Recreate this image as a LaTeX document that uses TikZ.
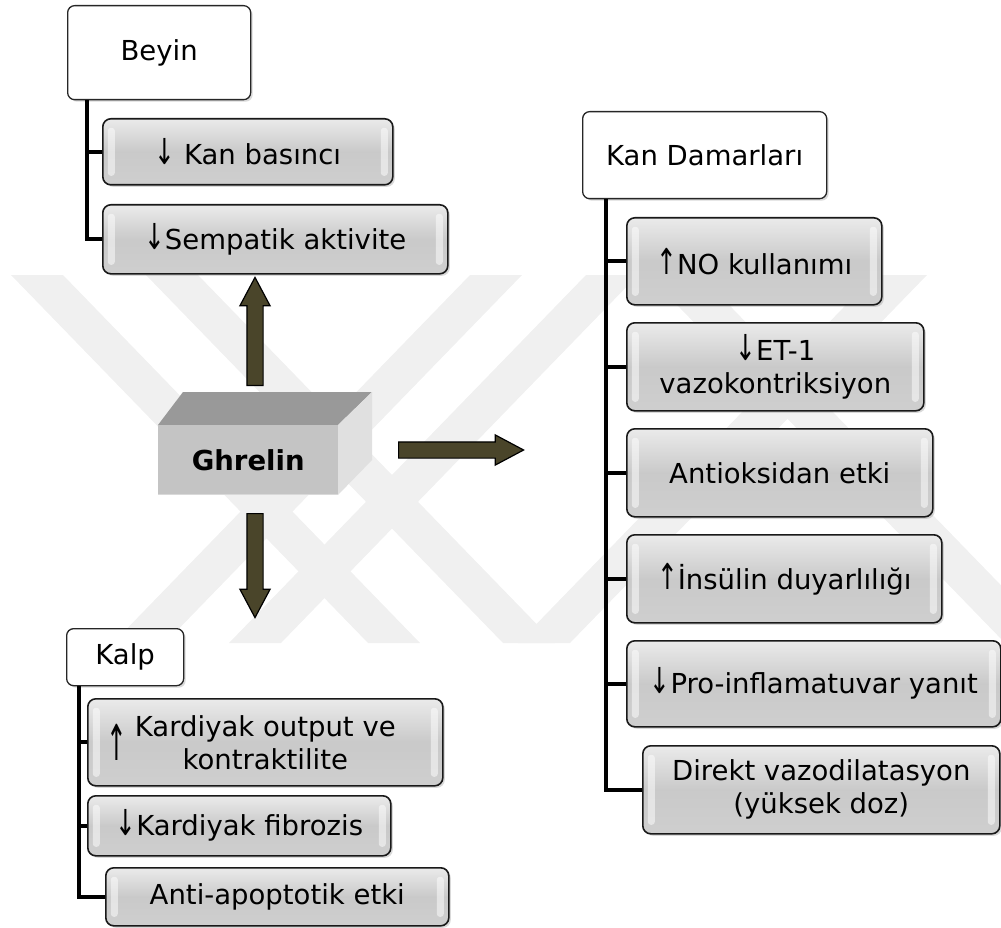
\documentclass[tikz,border=0pt]{standalone}
\usepackage{fontspec}
\setmainfont{DejaVu Sans}
\usepackage{graphicx}
\usetikzlibrary{shapes.arrows, shadows}

\definecolor{arrowolive}{HTML}{4A452A}
\newcommand{\dn}{\scalebox{0.9}[1.3]{↓}}
\newcommand{\upp}{\scalebox{0.9}[1.3]{↑}}

\begin{document}
\begin{tikzpicture}[x=1pt, y=-1pt,
    every node/.style={font=\fontsize{27.5}{33}\selectfont},
    header/.style={draw=black!85, line width=1.3pt, fill=white, rounded corners=7pt,
        drop shadow={shadow xshift=2pt, shadow yshift=-2pt, opacity=0.3},
        anchor=north west, inner sep=0pt},
    item/.style={draw=black!90, line width=1.6pt, rounded corners=8pt,
        top color=black!8, bottom color=black!19, middle color=black!21,
        drop shadow={shadow xshift=2pt, shadow yshift=-2pt, opacity=0.3},
        anchor=north west, align=center, inner sep=0pt,
        path picture={
            \fill[white, opacity=0.5, rounded corners=3pt]
                ([xshift=5pt, yshift=9pt]path picture bounding box.south west) rectangle
                ([xshift=12pt, yshift=-9pt]path picture bounding box.north west);
            \fill[white, opacity=0.5, rounded corners=3pt]
                ([xshift=-12pt, yshift=9pt]path picture bounding box.south east) rectangle
                ([xshift=-5pt, yshift=-9pt]path picture bounding box.north east);
        }},
    branch/.style={line width=4pt, black},
    bigarrow/.style={single arrow, draw=black, line width=1.2pt, fill=arrowolive,
        minimum width=29pt, single arrow head extend=7pt,
        single arrow tip angle=56, inner xsep=0pt, inner ysep=7.5pt},
    band/.style={fill=black!6}
]
\useasboundingbox (0,0) rectangle (1001,928);

% watermark stripes
\fill[band] (11,275) -- (63,275) -- (420,643) -- (368,643) -- cycle;
\fill[band] (146,275) -- (198,275) -- (555,643) -- (503,643) -- cycle;
\fill[band] (648,275) -- (700,275) -- (1057,643) -- (1005,643) -- cycle;
\fill[band] (470,275) -- (522,275) -- (165,643) -- (113,643) -- cycle;
\fill[band] (586,275) -- (638,275) -- (281,643) -- (229,643) -- cycle;
\fill[band] (875,275) -- (927,275) -- (570,643) -- (518,643) -- cycle;

% Ghrelin block
\fill[black!40] (158,425) -- (183,392) -- (372,392) -- (338,425) -- cycle;
\fill[black!12] (338,425) -- (372,392) -- (372,460) -- (338,495) -- cycle;
\node[fill=black!23, minimum width=180pt, minimum height=70pt, anchor=north west,
      inner sep=0pt, font=\fontsize{27.5}{33}\selectfont\bfseries] (ghrelin) at (158,425) {Ghrelin};
\draw[black!15, line width=1.5pt] ([yshift=1pt]ghrelin.south west) -- ([yshift=1pt]ghrelin.south east);

\node[bigarrow, rotate=90, minimum height=108pt, anchor=tail] (uparrow) at (255,386) {};
\node[bigarrow, rotate=-90, minimum height=104pt, anchor=tail] (downarrow) at (255,513) {};
\node[bigarrow, minimum height=125pt, anchor=tail] (rightarrow) at (398,450) {};

% Beyin
\node[header, minimum width=183pt, minimum height=94pt] (beyin) at (67,5) {Beyin};
\node[item, minimum width=290pt, minimum height=66pt] (kanbasinci) at (102,118) {\dn\ Kan basıncı};
\node[item, minimum width=345pt, minimum height=69pt] (sempatik) at (102,204) {\dn Sempatik aktivite};
\draw[branch] ([xshift=20pt]beyin.south west) |- (kanbasinci.west);
\draw[branch] ([xshift=20pt]beyin.south west) |- (sempatik.west);

% Kan Damarlari
\node[header, minimum width=244pt, minimum height=87pt] (kandamar) at (582,111) {Kan Damarları};
\node[item, minimum width=255pt, minimum height=87pt] (nokul) at (626,217) {\upp NO kullanımı};
\node[item, minimum width=297pt, minimum height=88pt] (etbir) at (626,322) {\dn ET-1\\vazokontriksiyon};
\node[item, minimum width=306pt, minimum height=88pt] (antiok) at (626,428) {Antioksidan etki};
\node[item, minimum width=315pt, minimum height=88pt] (insulin) at (626,534) {\upp İnsülin duyarlılığı};
\node[item, minimum width=374pt, minimum height=86pt] (proinf) at (626,640) {\dn Pro-inflamatuvar yanıt};
\node[item, minimum width=357pt, minimum height=88pt] (direkt) at (642,745) {Direkt vazodilatasyon\\(yüksek doz)};
\foreach \n in {nokul,etbir,antiok,insulin,proinf,direkt}
  \draw[branch] ([xshift=24pt]kandamar.south west) |- (\n.west);

% Kalp
\node[header, minimum width=117pt, minimum height=57pt] (kalp) at (66,628) {Kalp};
\node[item, minimum width=355pt, minimum height=87pt] (kardiyak) at (87,698) {Kardiyak output ve\\kontraktilite};
\node (kardiyakok) at (117,742) {\scalebox{0.9}[1.8]{↑}};
\node[item, minimum width=303pt, minimum height=60pt] (fibrozis) at (87,795) {\dn Kardiyak fibrozis};
\node[item, minimum width=343pt, minimum height=58pt] (antiapop) at (105,867) {Anti-apoptotik etki};
\foreach \n in {kardiyak,fibrozis,antiapop}
  \draw[branch] ([xshift=13pt]kalp.south west) |- (\n.west);
\end{tikzpicture}
\end{document}
